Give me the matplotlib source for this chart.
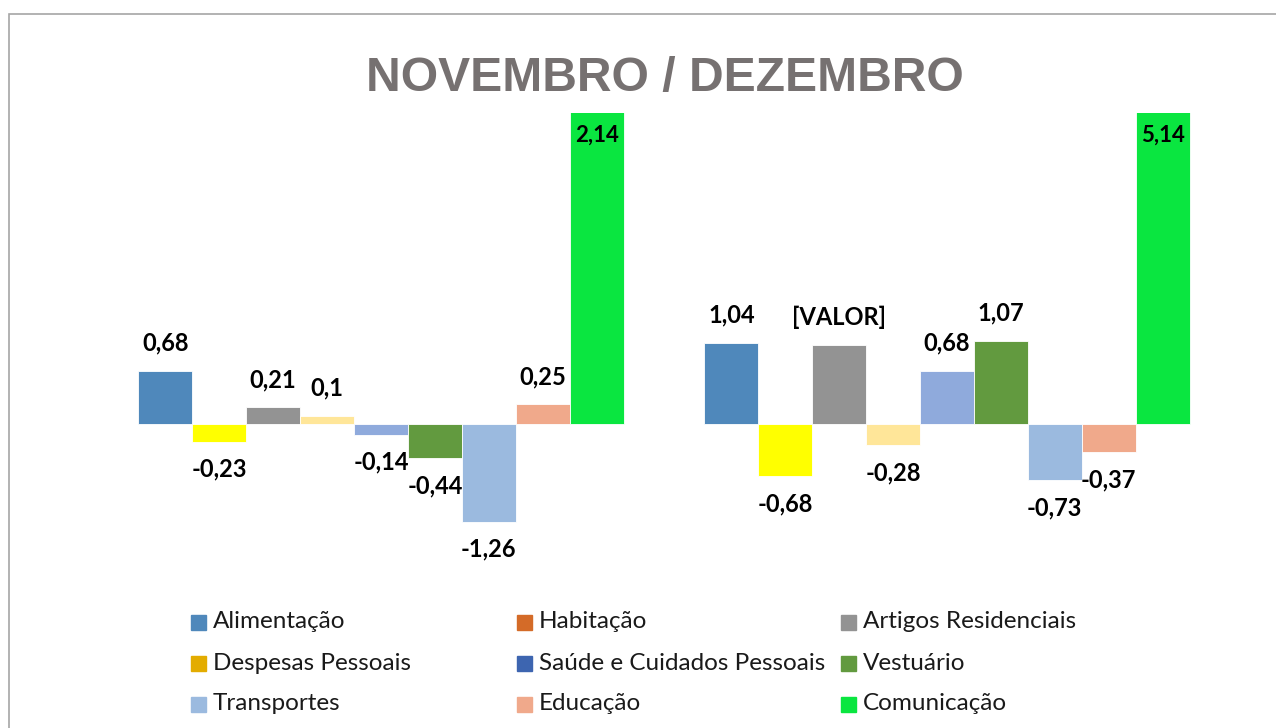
import matplotlib.pyplot as plt
from matplotlib.patches import Rectangle
import numpy as np

meses = ['Novembro', 'Dezembro']
grupos = ['Alimentação', 'Habitação', 'Artigos Residenciais', 'Despesas Pessoais',
          'Saúde e Cuidados Pessoais', 'Vestuário', 'Transportes', 'Educação', 'Comunicação']

# alturas das barras (Comunicação em novembro passa do topo do eixo)
novembro = [0.68, -0.23, 0.21, 0.10, -0.14, -0.44, -1.26, 0.25, 4.2]
dezembro = [1.04, -0.68, 1.01, -0.28, 0.68, 1.07, -0.73, -0.37, 5.14]

# rotulos como aparecem no grafico
rotulos_nov = ['0,68', '-0,23', '0,21', '0,1', '-0,14', '-0,44', '-1,26', '0,25', '2,14']
rotulos_dez = ['1,04', '-0,68', '[VALOR]', '-0,28', '0,68', '1,07', '-0,73', '-0,37', '5,14']

cores_barras = ['#4F88BB', '#FFFF00', '#939393', '#FFE699', '#8FAADC',
                '#629A3F', '#9BBADF', '#F0A98B', '#0AE640']
cores_legenda = ['#4F88BB', '#D46B28', '#939393', '#E3AC00', '#3D65B0',
                 '#629A3F', '#9BBADF', '#F0A98B', '#0AE640']

W, H = 1276, 728
fig = plt.figure(figsize=(W / 100, H / 100), dpi=100)

# moldura do grafico
fig.add_artist(Rectangle((9 / W, -0.05), 1.1, 1 - 14 / H + 0.05, transform=fig.transFigure,
                         fill=False, edgecolor='#A6A6A6', linewidth=1.2))

fig.text(665 / W, 1 - 78 / H, 'NOVEMBRO / DEZEMBRO', ha='center', va='center',
         fontsize=34.6, fontweight='bold', color='#767171', family='Liberation Sans')

ax = fig.add_axes([98 / W, 149 / H, 1132 / W, 466 / H])
ax.set_xlim(-0.5, 1.5)
ax.set_ylim(-2, 4)
ax.axis('off')

n = len(grupos)
larg = 1 / (n + 1.5)
index = np.arange(len(meses))
topo = ax.get_ylim()[1]

for i in range(n):
    xs = index + (i - (n - 1) / 2) * larg
    alturas = [novembro[i], dezembro[i]]
    rots = [rotulos_nov[i], rotulos_dez[i]]
    ax.bar(xs, alturas, larg, color=cores_barras[i], edgecolor='white', linewidth=0.6)
    for x, h, r in zip(xs, alturas, rots):
        if h > topo:
            ax.annotate(r, (x, topo), xytext=(0, -16), textcoords='offset points',
                        ha='center', va='center', fontsize=16, fontweight='bold',
                        family='Lato', color='black')
        else:
            dy = 20 if h >= 0 else -20
            ax.annotate(r, (x, h), xytext=(0, dy), textcoords='offset points',
                        ha='center', va='center', fontsize=17, fontweight='bold',
                        family='Lato', color='black')

# legenda em 3 colunas
col_x = [191, 517, 841]
lin_y = [622, 663, 704]
for k in range(n):
    lin = k // 3
    col = k % 3
    x0 = col_x[col]
    y0 = lin_y[lin]
    fig.add_artist(Rectangle((x0 / W, 1 - (y0 + 7.5) / H), 15 / W, 15 / H,
                             transform=fig.transFigure, color=cores_legenda[k]))
    fig.text((x0 + 22) / W, 1 - y0 / H, grupos[k], ha='left', va='center',
             fontsize=17.5, family='Lato', color='#1A1A1A')

plt.savefig('out.png', dpi=100)
